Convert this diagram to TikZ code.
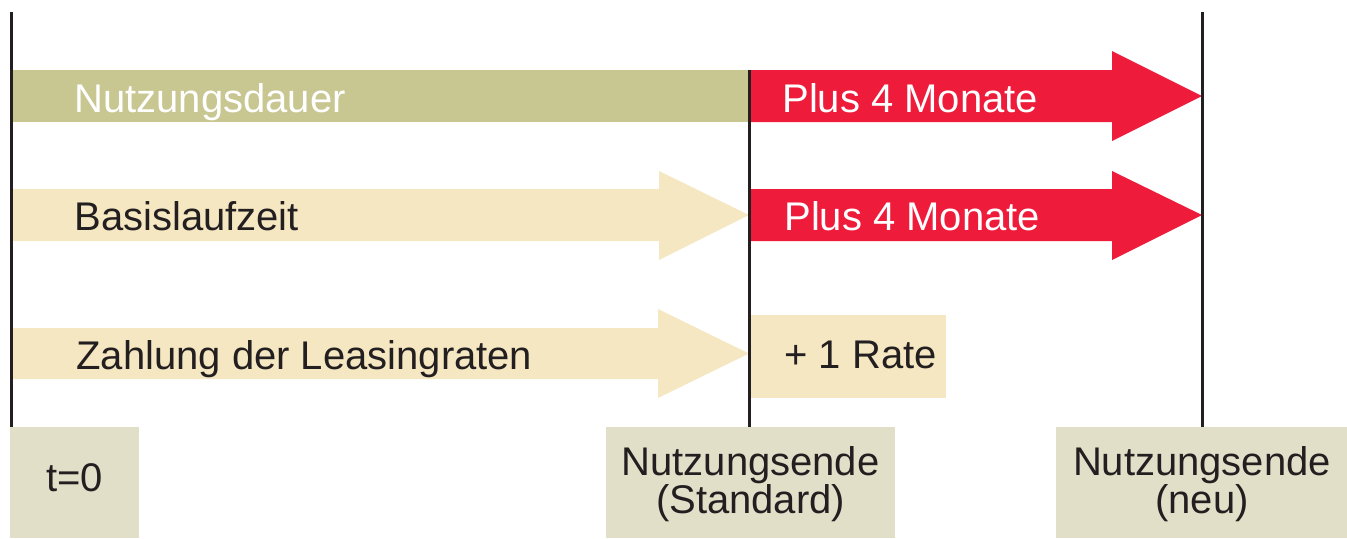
\documentclass[tikz,border=0pt]{standalone}
\usepackage{fontspec}
\setmainfont{Liberation Sans}
\definecolor{olive}{HTML}{C8C691}
\definecolor{cream}{HTML}{F4E7C1}
\definecolor{redarrow}{HTML}{EE1B3A}
\definecolor{boxgray}{HTML}{E2DFC9}
\definecolor{darktext}{HTML}{231F20}
\begin{document}
\begin{tikzpicture}[x=0.5pt,y=-0.5pt,
  lbl/.style={inner sep=0pt,font=\fontsize{20}{19}\selectfont,text=darktext},
  wlbl/.style={lbl,text=white},
  bottombox/.style={fill=boxgray,draw=none,inner sep=0pt,anchor=north west},
  timeline/.style={draw=darktext,line width=1.5pt}]
\useasboundingbox (0,0) rectangle (1347,538);
% row 1
\fill[olive] (12,70) rectangle (750,122);
\fill[redarrow] (750,70) -- (1112,70) -- (1112,51) -- (1202,96) -- (1112,141) -- (1112,122) -- (750,122) -- cycle;
% row 2
\fill[cream] (12,189) -- (659,189) -- (659,171) -- (749,215) -- (659,260) -- (659,241) -- (12,241) -- cycle;
\fill[redarrow] (750,189) -- (1112,189) -- (1112,171) -- (1202,215) -- (1112,260) -- (1112,241) -- (750,241) -- cycle;
% row 3
\fill[cream] (12,328) -- (658,328) -- (658,309) -- (749,353.5) -- (658,398) -- (658,379) -- (12,379) -- cycle;
\fill[cream] (750,315) rectangle (946,398);
% bottom boxes
\node[bottombox,minimum width=64.5pt,minimum height=55.5pt] (b0) at (10,427) {};
\node[bottombox,minimum width=144.5pt,minimum height=55.5pt] (b1) at (606,427) {};
\node[bottombox,minimum width=145.5pt,minimum height=55.5pt] (b2) at (1056,427) {};
% timelines
\coordinate (l0t) at (11,12);
\coordinate (l0b) at (11,427);
\coordinate (l1t) at (749.5,70);
\coordinate (l1b) at (749.5,427);
\coordinate (l2t) at (1202.5,12);
\coordinate (l2b) at (1202.5,427);
\draw[timeline] (l0t) -- (l0b);
\draw[timeline] (l1t) -- (l1b);
\draw[timeline] (l2t) -- (l2b);
% labels
\node[wlbl,anchor=base west] (t1) at (74,112) {Nutzungsdauer};
\node[wlbl,anchor=base west] (t2) at (782,112) {Plus 4 Monate};
\node[lbl,anchor=base west] (t3) at (74,230) {Basislaufzeit};
\node[wlbl,anchor=base west] (t4) at (784,230) {Plus 4 Monate};
\node[lbl,anchor=base west] (t5) at (76,369) {Zahlung der Leasingraten};
\node[lbl,anchor=base west] (t6) at (784,368) {+ 1 Rate};
\node[lbl,anchor=base] (t7) at (74.5,491) {t=0};
\node[lbl,anchor=base,align=center] (t8) at (750.5,475) {Nutzungsende};
\node[lbl,anchor=base] (t9) at (750.5,513) {(Standard)};
\node[lbl,anchor=base] (t10) at (1202,475) {Nutzungsende};
\node[lbl,anchor=base] (t11) at (1202,513) {(neu)};
\end{tikzpicture}
\end{document}
